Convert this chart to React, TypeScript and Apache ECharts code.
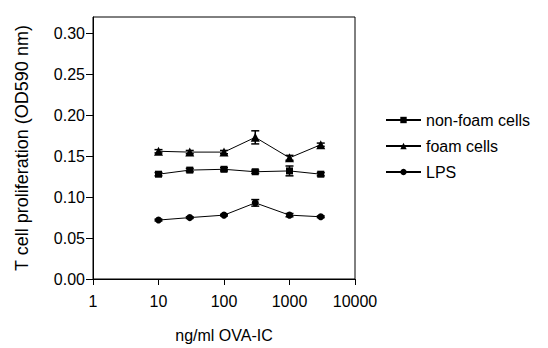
import React, { useEffect, useRef } from "react";
import * as echarts from "echarts";

const doses = [10, 30, 100, 300, 1000, 3000];
const nonFoam = [0.128, 0.133, 0.134, 0.131, 0.132, 0.128];
const nonFoamErr = [0.002, 0.002, 0.002, 0.002, 0.006, 0.002];
const foam = [0.156, 0.155, 0.155, 0.173, 0.148, 0.164];
const foamErr = [0.002, 0.002, 0.002, 0.008, 0.003, 0.002];
const lps = [0.072, 0.075, 0.078, 0.093, 0.078, 0.076];
const lpsErr = [0.001, 0.001, 0.001, 0.004, 0.002, 0.001];
const yTicks = [0, 0.05, 0.1, 0.15, 0.2, 0.25, 0.3];
const xTicks = [1, 10, 100, 1000, 10000];

const FONT = "'Liberation Sans', Arial, sans-serif";

function pairs(ys: number[]) {
  return doses.map((d, i) => [d, ys[i]]);
}
function errData(ys: number[], es: number[]) {
  return doses.map((d, i) => [d, ys[i] - es[i], ys[i] + es[i]]);
}

const errRender = (params: any, api: any) => {
  const x = api.value(0);
  const lo = api.coord([x, api.value(1)]);
  const hi = api.coord([x, api.value(2)]);
  const hw = 4;
  return {
    type: "group",
    children: [
      { type: "line", shape: { x1: lo[0], y1: lo[1], x2: hi[0], y2: hi[1] }, style: { stroke: "#000", lineWidth: 1.5 } },
      { type: "line", shape: { x1: lo[0] - hw, y1: lo[1], x2: lo[0] + hw, y2: lo[1] }, style: { stroke: "#000", lineWidth: 1.5 } },
      { type: "line", shape: { x1: hi[0] - hw, y1: hi[1], x2: hi[0] + hw, y2: hi[1] }, style: { stroke: "#000", lineWidth: 1.5 } },
    ],
  };
};

export default function App() {
  const ref = useRef<HTMLDivElement>(null);
  useEffect(() => {
    if (!ref.current) return;
    const chart = echarts.init(ref.current, null, { renderer: "svg" });
    const lineCommon = {
      type: "line",
      lineStyle: { color: "#000", width: 1 },
      itemStyle: { color: "#000" },
      z: 3,
    };
    chart.setOption({
      animation: false,
      backgroundColor: "#fff",
      textStyle: { fontFamily: FONT, color: "#000" },
      grid: {
        left: 93,
        right: 193,
        top: 17,
        bottom: 69,
        show: true,
        borderColor: "#000",
        borderWidth: 1,
        backgroundColor: "transparent",
      },
      legend: {
        orient: "vertical",
        left: 380,
        top: 107,
        itemWidth: 35,
        itemHeight: 8,
        itemGap: 10,
        textStyle: { fontFamily: FONT, fontSize: 16, color: "#000" },
        data: ["non-foam cells", "foam cells", "LPS"],
      },
      xAxis: {
        type: "log",
        logBase: 10,
        min: 1,
        max: 10000,
        name: "ng/ml OVA-IC",
        nameLocation: "middle",
        nameGap: 48,
        nameTextStyle: { fontFamily: FONT, fontSize: 16, color: "#000" },
        axisLine: { lineStyle: { color: "#000", width: 1 } },
        axisTick: { show: true, inside: false, length: 6, lineStyle: { color: "#000" } },
        axisLabel: {
          fontFamily: FONT,
          fontSize: 16,
          color: "#000",
          margin: 14,
          customValues: xTicks,
          formatter: (v: number) => String(Math.round(v)),
        },
        minorTick: { show: false },
        splitLine: { show: false },
      },
      yAxis: {
        type: "value",
        min: 0,
        max: 0.32,
        name: "T cell proliferation (OD590 nm)",
        nameLocation: "middle",
        nameGap: 62,
        nameTextStyle: { fontFamily: FONT, fontSize: 18, color: "#000" },
        axisLine: { show: true, lineStyle: { color: "#000", width: 1 } },
        axisTick: { show: true, inside: false, length: 7, lineStyle: { color: "#000" }, customValues: yTicks },
        axisLabel: {
          fontFamily: FONT,
          fontSize: 16,
          color: "#000",
          margin: 8,
          customValues: yTicks,
          formatter: (v: number) => v.toFixed(2),
        },
        splitLine: { show: false },
      },
      series: [
        { ...lineCommon, name: "non-foam cells", data: pairs(nonFoam), symbol: "rect", symbolSize: 7 },
        { ...lineCommon, name: "foam cells", data: pairs(foam), symbol: "triangle", symbolSize: 9 },
        { ...lineCommon, name: "LPS", data: pairs(lps), symbol: "circle", symbolSize: 7 },
        { type: "custom", renderItem: errRender, data: errData(nonFoam, nonFoamErr), z: 2, encode: { x: 0, y: [1, 2] } },
        { type: "custom", renderItem: errRender, data: errData(foam, foamErr), z: 2, encode: { x: 0, y: [1, 2] } },
        { type: "custom", renderItem: errRender, data: errData(lps, lpsErr), z: 2, encode: { x: 0, y: [1, 2] } },
      ],
    });
    return () => chart.dispose();
  }, []);
  return (
    <div
      ref={ref}
      style={{ position: "fixed", left: 0, top: 0, width: 548, height: 348, background: "#fff" }}
    />
  );
}
